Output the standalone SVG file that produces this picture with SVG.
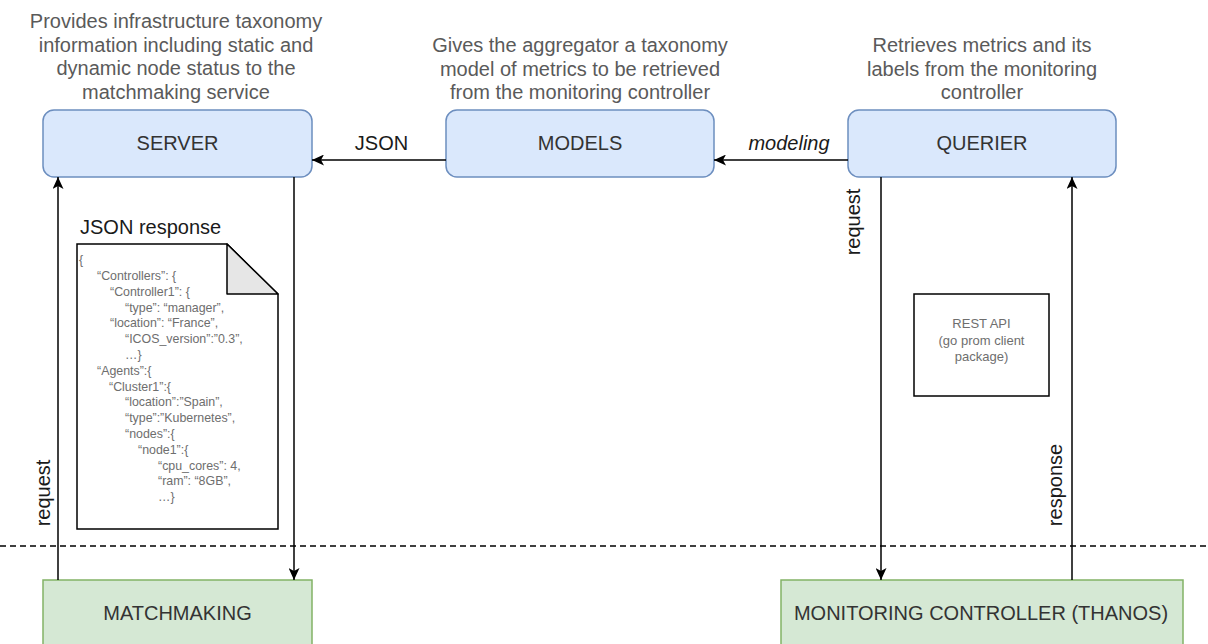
<svg xmlns="http://www.w3.org/2000/svg" width="1208" height="644" viewBox="0 0 1208 644">
  <style>
    .desc { font-family: "Liberation Sans", Arial, sans-serif; font-size: 20px; fill: #5a5a5a; text-anchor: middle; }
    .lbl { font-family: "Liberation Sans", Arial, sans-serif; font-size: 20px; fill: #333333; text-anchor: middle; }
    .edge { font-family: "Liberation Sans", Arial, sans-serif; font-size: 20px; fill: #1a1a1a; text-anchor: middle; }
    .blue { fill: #dae8fc; stroke: #6c8ebf; stroke-width: 1.5; }
    .green { fill: #d5e8d4; stroke: #82b366; stroke-width: 1.5; }
    .wire { fill: none; stroke: #000000; stroke-width: 1.5; }
    .json { font-family: "Liberation Sans", Arial, sans-serif; font-size: 12.4px; fill: #6e6e6e; }
    .rest { font-family: "Liberation Sans", Arial, sans-serif; font-size: 13px; fill: #6e6e6e; text-anchor: middle; }
  </style>
  <defs>
    <marker id="arrow" viewBox="0 0 12 11" refX="12" refY="5.5" markerWidth="12" markerHeight="11" markerUnits="userSpaceOnUse" orient="auto">
      <path d="M0,0 L12,5.5 L0,11 L3,5.5 Z" fill="#000000"/>
    </marker>
  </defs>
  <rect width="1208" height="644" fill="#ffffff"/>

  <!-- descriptions above the services -->
  <g id="server-desc">
    <text class="desc" x="176" y="28">Provides infrastructure taxonomy</text>
    <text class="desc" x="176" y="51.5">information including static and</text>
    <text class="desc" x="176" y="75">dynamic node status to the</text>
    <text class="desc" x="176" y="98.5">matchmaking service</text>
  </g>
  <g id="models-desc">
    <text class="desc" x="580" y="52">Gives the aggregator a taxonomy</text>
    <text class="desc" x="580" y="75.5">model of metrics to be retrieved</text>
    <text class="desc" x="580" y="99">from the monitoring controller</text>
  </g>
  <g id="querier-desc">
    <text class="desc" x="982" y="52">Retrieves metrics and its</text>
    <text class="desc" x="982" y="75.5">labels from the monitoring</text>
    <text class="desc" x="982" y="99">controller</text>
  </g>

  <!-- service nodes -->
  <g id="server">
    <rect class="blue" x="43" y="110" width="269" height="67" rx="11"/>
    <text class="lbl" x="177.5" y="150">SERVER</text>
  </g>
  <g id="models">
    <rect class="blue" x="446" y="110" width="268" height="67" rx="11"/>
    <text class="lbl" x="580" y="150">MODELS</text>
  </g>
  <g id="querier">
    <rect class="blue" x="848" y="110" width="268" height="67" rx="11"/>
    <text class="lbl" x="982" y="150">QUERIER</text>
  </g>
  <g id="matchmaking">
    <rect class="green" x="43" y="580" width="269" height="80"/>
    <text class="lbl" x="177.5" y="620">MATCHMAKING</text>
  </g>
  <g id="monitoring-controller">
    <rect class="green" x="781" y="580" width="402" height="80"/>
    <text class="lbl" x="981" y="620">MONITORING CONTROLLER (THANOS)</text>
  </g>

  <!-- REST API note -->
  <g id="rest-api">
    <rect x="914" y="294" width="135" height="102" fill="#ffffff" stroke="#000000" stroke-width="1.5"/>
    <text class="rest" x="981.5" y="328">REST API</text>
    <text class="rest" x="981.5" y="345">(go prom client</text>
    <text class="rest" x="981.5" y="361">package)</text>
  </g>

  <!-- JSON response document -->
  <g id="json-response">
    <text x="80" y="234" font-family="Liberation Sans, Arial, sans-serif" font-size="20" fill="#1a1a1a">JSON response</text>
    <path d="M77,244 L227,244 L278,294 L278,529 L77,529 Z" fill="#ffffff" stroke="#000000" stroke-width="1.5"/>
    <path d="M227,244 L227,294 L278,294 Z" fill="#e6e6e6" stroke="#000000" stroke-width="1.5" stroke-linejoin="round"/>
    <text class="json" x="79" y="264">{</text>
    <text class="json" x="97" y="280">“Controllers”: {</text>
    <text class="json" x="110" y="295.5">“Controller1”: {</text>
    <text class="json" x="125" y="311.5">“type”: “manager”,</text>
    <text class="json" x="110" y="327">“location”: “France”,</text>
    <text class="json" x="125" y="343">“ICOS_version”:”0.3”,</text>
    <text class="json" x="125" y="359">…}</text>
    <text class="json" x="97" y="374.5">“Agents”:{</text>
    <text class="json" x="109" y="390.5">“Cluster1”:{</text>
    <text class="json" x="125" y="406">“location”:”Spain”,</text>
    <text class="json" x="125" y="422">“type”:”Kubernetes”,</text>
    <text class="json" x="125" y="438">“nodes”:{</text>
    <text class="json" x="138" y="453.5">“node1”:{</text>
    <text class="json" x="158" y="469.5">“cpu_cores”: 4,</text>
    <text class="json" x="158" y="485">“ram”: “8GB”,</text>
    <text class="json" x="158" y="501">…}</text>
  </g>

  <!-- boundary between aggregator and external services -->
  <line x1="0" y1="546" x2="1208" y2="546" stroke="#000000" stroke-width="1.5" stroke-dasharray="6 4"/>

  <!-- connectors -->
  <g id="connectors">
    <line class="wire" x1="446" y1="160" x2="312" y2="160" marker-end="url(#arrow)"/>
    <line class="wire" x1="848" y1="160" x2="714" y2="160" marker-end="url(#arrow)"/>
    <line class="wire" x1="58" y1="580" x2="58" y2="177" marker-end="url(#arrow)"/>
    <line class="wire" x1="294" y1="177" x2="294" y2="580" marker-end="url(#arrow)"/>
    <line class="wire" x1="881" y1="177" x2="881" y2="580" marker-end="url(#arrow)"/>
    <line class="wire" x1="1072" y1="580" x2="1072" y2="177" marker-end="url(#arrow)"/>
    <text class="edge" x="381.5" y="150">JSON</text>
    <text class="edge" x="789" y="150" font-style="italic">modeling</text>
    <text class="edge" transform="translate(50,493) rotate(-90)">request</text>
    <text class="edge" transform="translate(860,222) rotate(-90)">request</text>
    <text class="edge" transform="translate(1062,485) rotate(-90)">response</text>
  </g>
</svg>
